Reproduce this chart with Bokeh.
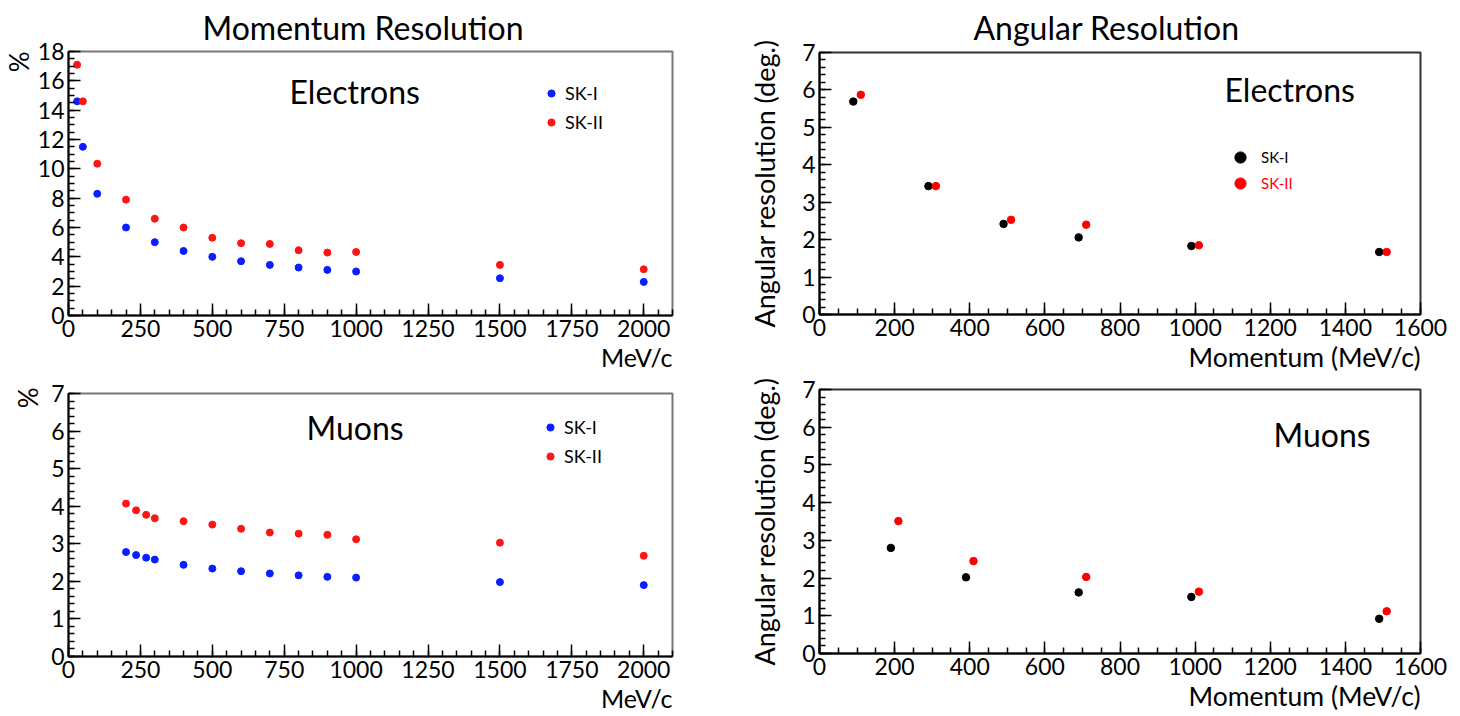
from bokeh.plotting import figure
from bokeh.layouts import row, column
from bokeh.models import Range1d, SingleIntervalTicker, Label, Legend, LegendItem, Title
from bokeh.embed import file_html
from bokeh.resources import INLINE

# ---------------- data ----------------
# Momentum resolution, electrons (%)
e_mom = [30, 50, 100, 200, 300, 400, 500, 600, 700, 800, 900, 1000, 1500, 2000]
e_res_sk1 = [14.6, 11.5, 8.3, 6.0, 5.0, 4.4, 4.0, 3.7, 3.45, 3.27, 3.11, 3.0, 2.54, 2.29]
e_res_sk2 = [17.1, 14.6, 10.35, 7.9, 6.6, 6.0, 5.3, 4.93, 4.88, 4.45, 4.29, 4.33, 3.45, 3.15]

# Momentum resolution, muons (%)
mu_mom = [200, 235, 270, 300, 400, 500, 600, 700, 800, 900, 1000, 1500, 2000]
mu_res_sk1 = [2.78, 2.70, 2.63, 2.58, 2.44, 2.34, 2.27, 2.21, 2.16, 2.12, 2.10, 1.98, 1.90]
mu_res_sk2 = [4.07, 3.89, 3.77, 3.68, 3.60, 3.51, 3.40, 3.30, 3.27, 3.24, 3.12, 3.03, 2.68]

# Angular resolution, electrons (deg.)
ea_mom_sk1 = [90, 290, 490, 690, 990, 1490]
ea_res_sk1 = [5.69, 3.43, 2.42, 2.06, 1.83, 1.67]
ea_mom_sk2 = [110, 310, 510, 710, 1010, 1510]
ea_res_sk2 = [5.87, 3.43, 2.53, 2.40, 1.85, 1.67]

# Angular resolution, muons (deg.)
ma_mom_sk1 = [190, 390, 690, 990, 1490]
ma_res_sk1 = [2.80, 2.02, 1.62, 1.50, 0.92]
ma_mom_sk2 = [210, 410, 710, 1010, 1510]
ma_res_sk2 = [3.51, 2.45, 2.03, 1.64, 1.12]

series_labels = ["SK-I", "SK-II"]

FONT = "Lato"
BLUE = "#0a1eff"
RED = "#ff1414"
BLACK = "#000000"


def make_fig(w, h, bl, br, bt, bb, xr, yr, xint, xminor, yint, yminor, outline):
    p = figure(width=w, height=h, min_border_left=bl, min_border_right=br,
               min_border_top=bt, min_border_bottom=bb,
               x_range=Range1d(*xr), y_range=Range1d(*yr),
               output_backend="svg", toolbar_location=None, tools="")
    p.xgrid.visible = False
    p.ygrid.visible = False
    p.outline_line_color = outline
    p.outline_line_width = 2
    p.background_fill_color = "white"
    p.border_fill_color = "white"
    p.xaxis.ticker = SingleIntervalTicker(interval=xint, num_minor_ticks=xminor)
    p.yaxis.ticker = SingleIntervalTicker(interval=yint, num_minor_ticks=yminor)
    for ax in (p.xaxis[0], p.yaxis[0]):
        ax.axis_line_width = 2
        ax.axis_line_color = "black"
        ax.major_tick_in = 12
        ax.major_tick_out = 0
        ax.minor_tick_in = 6
        ax.minor_tick_out = 0
        ax.major_tick_line_width = 1.5
        ax.minor_tick_line_width = 1.5
        ax.major_label_text_font = FONT
        ax.major_label_text_font_size = "23px"
        ax.major_label_text_color = "black"
        ax.major_label_standoff = 4
    return p


def add_label(p, x, y, text, size, color="black"):
    p.add_layout(Label(x=x, y=y, x_units="screen", y_units="screen", text=text,
                       text_font=FONT, text_font_size=size, text_align="left",
                       text_baseline="alphabetic", text_color=color))


def add_title(p, text, place, size, align, standoff, offset=0):
    p.add_layout(Title(text=text, align=align, text_font=FONT, text_font_size=size,
                       text_font_style="normal", text_color="black",
                       standoff=standoff, offset=offset), place)


def add_legend(p, items, loc, gw, gh, standoff, size, color, spacing=0):
    lg = Legend(items=items, location=loc, glyph_width=gw, glyph_height=gh,
                label_height=gh, label_standoff=standoff, spacing=spacing,
                padding=0, margin=0, border_line_color=None, background_fill_alpha=0,
                label_text_font=FONT, label_text_font_size=size, label_text_color=color)
    p.add_layout(lg)


# ---------- top-left: momentum resolution, electrons ----------
tl = make_fig(745, 376, 68, 73, 51, 61, (0, 2100), (0, 18), 250, 5, 2, 4, "#777777")
r1 = tl.scatter(e_mom, e_res_sk1, size=7, color=BLUE)
r2 = tl.scatter(e_mom, e_res_sk2, size=7, color=RED)
add_legend(tl, [LegendItem(label=series_labels[0], renderers=[r1]),
                LegendItem(label=series_labels[1], renderers=[r2])],
           (474, 182), 18, 20, 5, "18px", "black", spacing=7)
add_title(tl, "Momentum Resolution", "above", "32px", "left", 10, 134)
add_title(tl, "%", "left", "26px", "right", 0, 0)
add_title(tl, "MeV/c", "below", "25px", "right", 1, 0)
add_label(tl, 221, 224, "Electrons", "32px")

# ---------- bottom-left: momentum resolution, muons ----------
bl = make_fig(745, 340, 68, 73, 17, 60, (0, 2100), (0, 7), 250, 5, 1, 5, "#777777")
r3 = bl.scatter(mu_mom, mu_res_sk1, size=7, color=BLUE)
r4 = bl.scatter(mu_mom, mu_res_sk2, size=7, color=RED)
add_legend(bl, [LegendItem(label=series_labels[0], renderers=[r3]),
                LegendItem(label=series_labels[1], renderers=[r4])],
           (473, 189), 18, 20, 5, "18px", "black", spacing=7)
add_title(bl, "%", "left", "26px", "right", 10, -6)
add_title(bl, "MeV/c", "below", "25px", "right", 0, 0)
add_label(bl, 238, 229, "Muons", "32px")

# ---------- top-right: angular resolution, electrons ----------
tr = make_fig(713, 376, 73, 38, 51, 62, (0, 1600), (0, 7), 200, 4, 1, 5, "#333333")
r5 = tr.scatter(ea_mom_sk1, ea_res_sk1, size=7.5, color=BLACK)
r6 = tr.scatter(ea_mom_sk2, ea_res_sk2, size=7.5, color="#ff0000")
add_legend(tr, [LegendItem(label=series_labels[0], renderers=[r5])], (407, 143), 28, 28, 7, "15px", "black")
add_legend(tr, [LegendItem(label=series_labels[1], renderers=[r6])], (407, 117), 28, 28, 7, "15px", "#ff0000")
add_title(tr, "Angular Resolution", "above", "32px", "left", 11, 154)
add_title(tr, "Momentum (MeV/c)", "below", "26.5px", "right", 1, 0)
add_label(tr, 405, 225, "Electrons", "32px")

# ---------- bottom-right: angular resolution, muons ----------
br = make_fig(713, 340, 73, 38, 13, 63, (0, 1600), (0, 7), 200, 4, 1, 5, "#333333")
br.scatter(ma_mom_sk1, ma_res_sk1, size=7.5, color=BLACK)
br.scatter(ma_mom_sk2, ma_res_sk2, size=7.5, color="#ff0000")
add_title(br, "Momentum (MeV/c)", "below", "26.5px", "right", 1, 0)
add_label(br, 454, 219, "Muons", "32px")

for p in (tr, br):
    p.yaxis.axis_label = "Angular resolution (deg.)"
    p.yaxis.axis_label_text_font = FONT
    p.yaxis.axis_label_text_font_size = "27px"
    p.yaxis.axis_label_text_font_style = "normal"
    p.yaxis.axis_label_text_color = "black"
    p.yaxis.axis_label_standoff = 18

layout = row(column(tl, bl), column(tr, br))
open("out.html", "w").write(file_html(layout, INLINE))
